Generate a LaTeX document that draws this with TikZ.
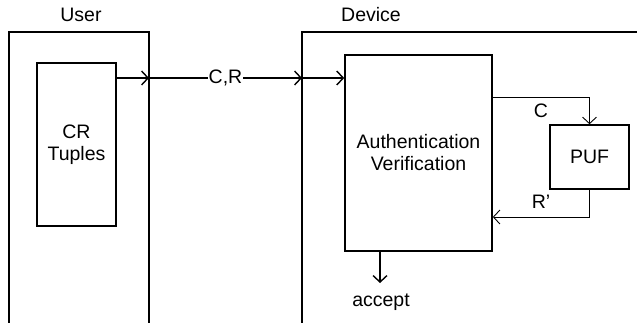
\documentclass[tikz,border=0pt]{standalone}
\usepackage{fontspec}
\setmainfont{Liberation Sans}
\usetikzlibrary{arrows.meta}
\begin{document}
\begin{tikzpicture}[x=1pt,y=-1pt,
  every node/.style={font=\fontsize{19.5}{22}\selectfont, inner sep=0pt},
  heavy/.style={line width=1.6pt},
  light/.style={line width=0.9pt},
  tip/.style={-{Straight Barb[length=6.5pt,width=14pt,line width=1.4pt]}},
  thintip/.style={-{Straight Barb[length=6.5pt,width=14pt,line width=0.9pt]}},
  lbl/.style={fill=white, inner sep=1pt}]
\useasboundingbox (0,0) rectangle (637,323);

% open frames for the two parties
\draw[heavy] (9,323) -- (9,32) -- (149,32) -- (149,323);
\draw[heavy] (302,323) -- (302,32) -- (637,32);
\node (user) at (81,15) {User};
\node (device) at (371,15) {Device};

% boxes
\node[draw, heavy, minimum width=79pt, minimum height=163pt, align=center]
  (crt) at (76.5,144.5) {CR\\Tuples};
\node[draw, heavy, minimum width=147pt, minimum height=196pt, align=center]
  (auth) at (418.5,153) {Authentication\\Verification};
\node[draw, heavy, minimum width=79pt, minimum height=64pt]
  (puf) at (589.5,157) {PUF};

% junctions on the frame edges
\coordinate (ue) at (149,78);
\coordinate (de) at (302,78);
\coordinate (ai) at (auth.west |- de);

\draw[heavy, tip] (crt.east |- ue) -- (ue);
\draw[heavy, tip] (ue) -- node[lbl] (cr) {C,R} (de);
\draw[heavy, tip] (de) -- (ai);

% challenge to the PUF and response back
\coordinate (co) at (auth.east |- 0,97);
\coordinate (cc) at (puf.north |- co);
\draw[light, thintip] (co) -- (cc) -- (puf.north);
\node (c) at (541,111) {C};

\coordinate (rr) at (puf.south |- 0,217);
\coordinate (ri) at (auth.east |- rr);
\draw[light, thintip] (puf.south) -- (rr) -- (ri);
\node (r) at (541,202) {R\char"0027};

% accept output
\coordinate (ao) at (380,251);
\coordinate (at) at (380,283);
\draw[heavy, tip] (ao) -- (at);
\node (acc) at (381,302) {accept};
\end{tikzpicture}
\end{document}
